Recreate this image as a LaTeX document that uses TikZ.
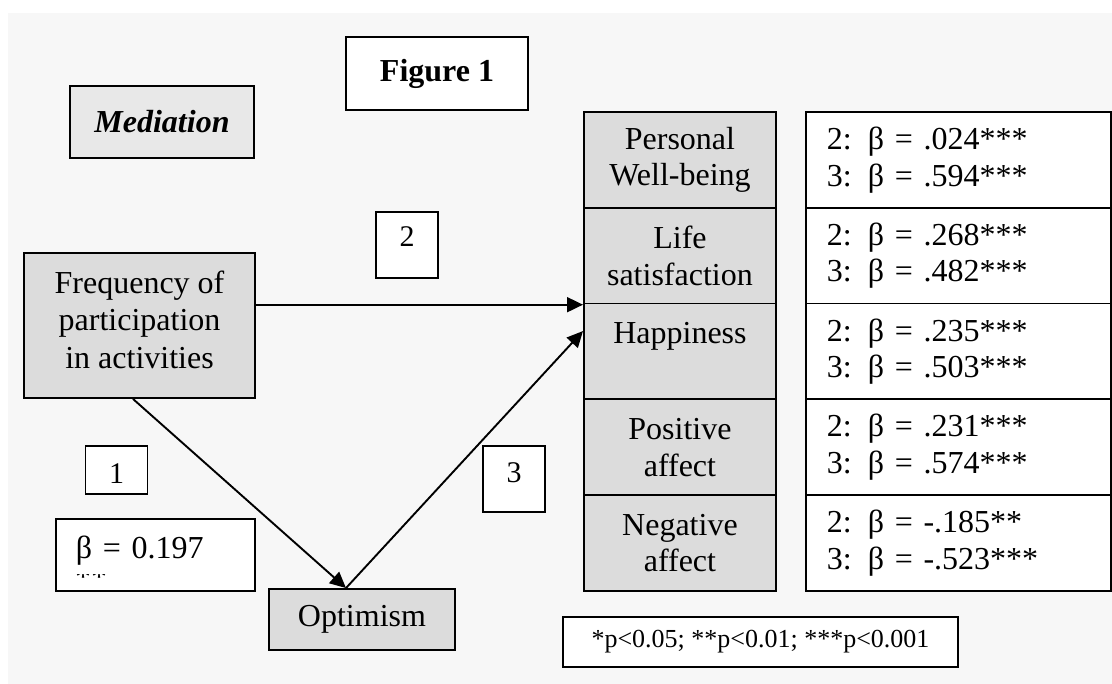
\documentclass[tikz,border=0pt]{standalone}
\usepackage{fontspec}
\setmainfont{Liberation Serif}
\usetikzlibrary{arrows.meta}

\definecolor{paper}{HTML}{F7F7F7}
\definecolor{cellgray}{HTML}{DCDCDC}
\definecolor{headgray}{HTML}{E8E8E8}

\tikzset{
  box/.style = {draw, line width=1.9pt, inner sep=0pt,
                font=\fontsize{32}{36.5}\selectfont},
  varbox/.style = {box, fill=cellgray, align=center},
  coefbox/.style = {box, fill=white, align=left, text width=263pt, inner xsep=21pt},
  numbox/.style = {box, fill=white, minimum width=62pt,
                   font=\fontsize{30}{36}\selectfont},
  effect/.style = {-{Triangle[length=16pt, width=15pt]}, line width=1.9pt}
}

\begin{document}
\begin{tikzpicture}%
    [x=1pt, y=-1pt]
    \fill[white] (0,0) rectangle (1112,684);
    \fill[paper] (8,13) rectangle (1112,684);
    \useasboundingbox (0,0) rectangle (1112,684);

    % title boxes
    \node[box, fill=headgray, minimum width=184pt, minimum height=72pt,
          font=\fontsize{32}{36}\selectfont\bfseries\itshape] (med) at (162,122) {Mediation};
    \node[box, fill=white, minimum width=182pt, minimum height=73pt,
          font=\fontsize{32}{36}\selectfont\bfseries] (fig) at (437,73.5) {Figure 1};

    % model
    \node[varbox, minimum width=231pt, minimum height=145pt, text depth=12pt,
          font=\fontsize{32}{37.5}\selectfont] (freq) at (139.5,325.5)
          {Frequency of\\participation\\in activities};
    \node[varbox, minimum width=186pt, minimum height=61pt] (opt) at (362,619.5) {Optimism};

    \node[numbox, text height=35pt, text depth=31pt] (n2) at (407,245) {2};
    \node[numbox, text height=38pt, text depth=10pt] (n1) at (116.5,470) {1};
    \node[numbox, text height=37pt, text depth=29pt] (n3) at (514,479) {3};

    \node[box, fill=white, anchor=north west, minimum width=199pt, text width=159pt,
          inner xsep=20pt, align=left, text height=40pt, text depth=32pt] (beta) at (55,518)
          {β = 0.197};
    \begin{scope}
      \clip (60,574) rectangle (130,580);
      \node[anchor=base west, inner sep=0pt, font=\fontsize{32}{36}\selectfont] (betastars)
            at (75,587) {**};
    \end{scope}

    % outcomes
    \node[varbox, anchor=north west, minimum width=192pt, minimum height=96pt] (pwb) at (583,111) {Personal\\Well-being};
    \node[varbox, anchor=north west, minimum width=192pt, minimum height=96pt] (ls) at (583,206.8) {Life\\satisfaction};
    \node[varbox, anchor=north west, minimum width=192pt, minimum height=96pt] (hap) at (583,302.6) {Happiness\\\phantom{x}};
    \node[varbox, anchor=north west, minimum width=192pt, minimum height=96pt] (pa) at (583,398.4) {Positive\\affect};
    \node[varbox, anchor=north west, minimum width=192pt, minimum height=96pt] (na) at (583,494.2) {Negative\\affect};

    \node[coefbox, anchor=north west, minimum height=96pt] (pwbc) at (805,111) {2: β = .024***\\3: β = .594***};
    \node[coefbox, anchor=north west, minimum height=96pt] (lsc) at (805,206.8) {2: β = .268***\\3: β = .482***};
    \node[coefbox, anchor=north west, minimum height=96pt] (hapc) at (805,302.6) {2: β = .235***\\3: β = .503***};
    \node[coefbox, anchor=north west, minimum height=96pt] (pac) at (805,398.4) {2: β = .231***\\3: β = .574***};
    \node[coefbox, anchor=north west, minimum height=96pt] (nac) at (805,494.2) {2: β = -.185**\\3: β = -.523***};

    \node[box, fill=white, minimum width=395pt, minimum height=50pt,
          font=\fontsize{26}{30}\selectfont] (sig) at (760.5,642) {*p<0.05; **p<0.01; ***p<0.001};

    % paths
    \draw[effect] (freq.east |- ls.south west) -- (ls.south west);
    \draw[effect] ([xshift=-6.5pt]freq.south) -- ([xshift=-16pt]opt.north);
    \draw[effect] ([xshift=-16pt]opt.north) -- ([yshift=20.5pt]hap.west);
\end{tikzpicture}
\end{document}
